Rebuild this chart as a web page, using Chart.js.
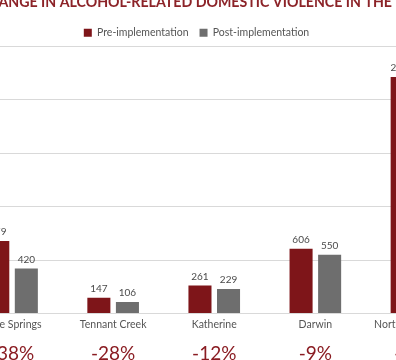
<!DOCTYPE html>
<html>
<head>
<meta charset="utf-8">
<script src="https://cdn.jsdelivr.net/npm/chart.js@4/dist/chart.umd.min.js"></script>
<style>
  html, body { margin: 0; padding: 0; background: #ffffff; }
  #wrap { position: relative; width: 396px; height: 360px; overflow: hidden; background: #fff; }
  #c { position: absolute; left: -74px; top: -6px; }
</style>
</head>
<body>
<div id="wrap"><canvas id="c" width="541" height="366"></canvas></div>
<script>
const titleText = "CHANGE IN ALCOHOL-RELATED DOMESTIC VIOLENCE IN THE NT";
const categories = ["Alice Springs", "Tennant Creek", "Katherine", "Darwin", "Northern Territory"];
const preImplementation = [679, 147, 261, 606, 2215];
const postImplementation = [420, 106, 229, 550, 1750];
const percentChange = ["-38%", "-28%", "-12%", "-9%", "-21%"];
const yTicks = [0, 500, 1000, 1500, 2000, 2500];

const RED = "#7e1519";
const GREY = "#6e6e6e";
const FONT = "Lato, 'Open Sans', sans-serif";

const valueLabels = {
  id: "valueLabels",
  afterDatasetsDraw(chart) {
    const ctx = chart.ctx;
    ctx.save();
    ctx.font = "10px " + FONT;
    ctx.fillStyle = "#4a4a4a";
    ctx.textAlign = "center";
    ctx.textBaseline = "bottom";
    chart.data.datasets.forEach((ds, di) => {
      const meta = chart.getDatasetMeta(di);
      meta.data.forEach((bar, i) => {
        ctx.fillText(String(ds.data[i]), bar.x, bar.y - 4);
      });
    });
    ctx.restore();
  }
};

const percentLabels = {
  id: "percentLabels",
  afterDraw(chart) {
    const ctx = chart.ctx;
    const xs = chart.scales.x;
    ctx.save();
    ctx.font = "19px " + FONT;
    ctx.fillStyle = "#8a1c22";
    ctx.textAlign = "center";
    ctx.textBaseline = "middle";
    percentChange.forEach((p, i) => {
      ctx.fillText(p, xs.getPixelForValue(i), chart.chartArea.bottom + 40);
    });
    ctx.restore();
  }
};

const legendHeight = {
  id: "legendHeight",
  beforeInit(chart) {
    const lg = chart.legend;
    if (!lg) return;
    const origFit = lg.fit;
    lg.fit = function () {
      origFit.call(this);
      this.height = 30.05;
    };
  }
};

new Chart(document.getElementById("c"), {
  type: "bar",
  data: {
    labels: categories,
    datasets: [
      { label: "Pre-implementation", data: preImplementation, backgroundColor: RED, borderWidth: 0,
        categoryPercentage: 0.565, barPercentage: 0.807 },
      { label: "Post-implementation", data: postImplementation, backgroundColor: GREY, borderWidth: 0,
        categoryPercentage: 0.565, barPercentage: 0.807 }
    ]
  },
  options: {
    responsive: false,
    animation: false,
    devicePixelRatio: 1,
    layout: { padding: { left: 0, right: 0, top: 0, bottom: 24 } },
    plugins: {
      title: {
        display: true,
        text: titleText,
        color: "#8c2328",
        font: { family: FONT, size: 14.2, weight: "bold" },
        padding: { top: 0, bottom: 5.41 }
      },
      legend: {
        display: true,
        position: "top",
        labels: {
          boxWidth: 8, boxHeight: 8, padding: 11,
          color: "#555555",
          font: { family: FONT, size: 10.5 }
        }
      },
      tooltip: { enabled: false }
    },
    scales: {
      x: {
        grid: { display: false, drawTicks: false },
        border: { display: false },
        ticks: { color: "#555555", font: { family: FONT, size: 10.5 }, padding: 5, maxRotation: 0, autoSkip: false },
        afterFit(axis) { axis.paddingLeft = 0; axis.paddingRight = 0; }
      },
      y: {
        min: yTicks[0],
        max: yTicks[yTicks.length - 1],
        afterBuildTicks(axis) { axis.ticks = yTicks.map(v => ({ value: v })); },
        ticks: { display: false },
        grid: { color: "#d9d9d9", lineWidth: 1, drawTicks: false },
        border: { display: false },
        afterFit(axis) { axis.width = 35.5; }
      }
    }
  },
  plugins: [legendHeight, valueLabels, percentLabels]
});
</script>
</body>
</html>
